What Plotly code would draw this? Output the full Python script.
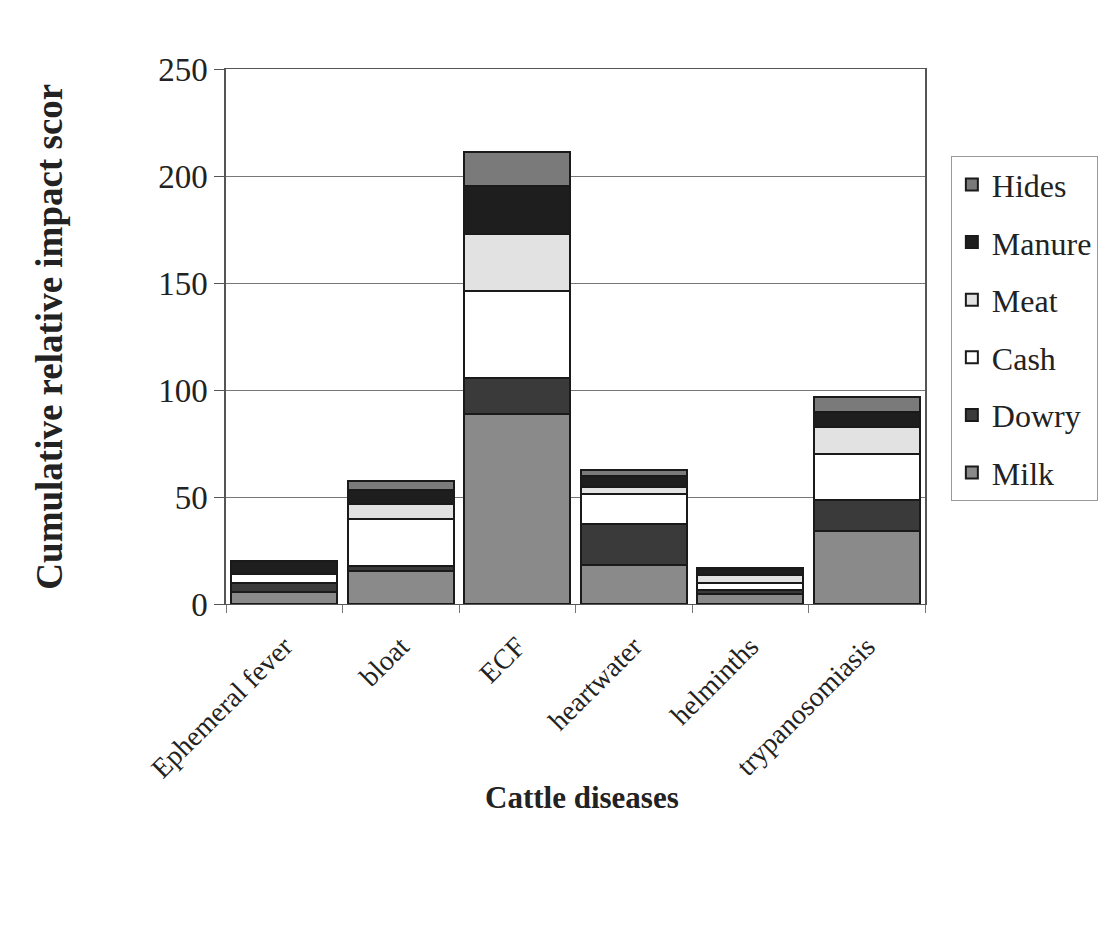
import plotly.graph_objects as go

diseases = ["Ephemeral fever", "bloat", "ECF", "heartwater", "helminths", "trypanosomiasis"]
milk = [5.5, 15.6, 88.7, 18.1, 4.7, 34.3]
dowry = [4.4, 2.0, 16.7, 19.2, 2.0, 14.3]
cash = [4.2, 22.3, 40.7, 13.9, 3.0, 21.6]
meat = [0.0, 7.0, 26.8, 3.4, 3.9, 12.7]
manure = [5.9, 6.6, 22.3, 5.1, 2.6, 6.9]
hides = [0.0, 3.9, 15.9, 2.7, 0.5, 7.0]

series = [
    ("Milk", milk, "#8a8a8a"),
    ("Dowry", dowry, "#3a3a3a"),
    ("Cash", cash, "#ffffff"),
    ("Meat", meat, "#e2e2e2"),
    ("Manure", manure, "#1e1e1e"),
    ("Hides", hides, "#7a7a7a"),
]

FONT = "Liberation Serif, Times New Roman, serif"

fig = go.Figure()
n = len(series)
for i, (name, vals, col) in enumerate(series):
    fig.add_trace(go.Bar(
        x=diseases, y=vals, name=name, legendgroup=name, legendrank=n - i,
        marker=dict(color=col, line=dict(color="#1a1a1a", width=2)),
    ))

fig.update_layout(
    barmode="stack",
    bargap=0.09,
    width=1111, height=944,
    margin=dict(l=226, r=186, t=69, b=340),
    paper_bgcolor="white", plot_bgcolor="white",
    font=dict(family=FONT, color="#222222"),
    showlegend=True,
    legend=dict(
        x=1.037, y=0.837, xanchor="left", yanchor="top",
        traceorder="grouped", tracegroupgap=13,
        font=dict(family=FONT, size=32, color="#222222"),
        bordercolor="#999999", borderwidth=1, bgcolor="white",
        itemwidth=30, entrywidth=112,
    ),
    xaxis=dict(
        tickangle=-45, tickfont=dict(family=FONT, size=28, color="#222222"),
        showline=True, linecolor="#555555", linewidth=1, mirror=True,
        ticks="outside", ticklen=8, tickcolor="#777777", tickson="boundaries",
        ticklabelstandoff=14,
        showgrid=False, automargin=False,
    ),
    yaxis=dict(
        range=[0, 250], dtick=50,
        tickfont=dict(family=FONT, size=33, color="#222222"),
        showline=True, linecolor="#555555", linewidth=1.5, mirror=True,
        ticks="outside", ticklen=10, tickcolor="#555555",
        showgrid=True, gridcolor="#777777", gridwidth=1,
        automargin=False,
    ),
    annotations=[
        dict(text="<b>Cumulative relative impact scor</b>", textangle=-90,
             x=-0.253, y=0.5, xref="paper", yref="paper",
             xanchor="center", yanchor="middle",
             showarrow=False, font=dict(family=FONT, size=37, color="#222222")),
        dict(text="<b>Cattle diseases</b>",
             x=0.509, y=-0.361, xref="paper", yref="paper",
             xanchor="center", yanchor="middle",
             showarrow=False, font=dict(family=FONT, size=31, color="#222222")),
    ],
)

fig.write_html("out.html")
